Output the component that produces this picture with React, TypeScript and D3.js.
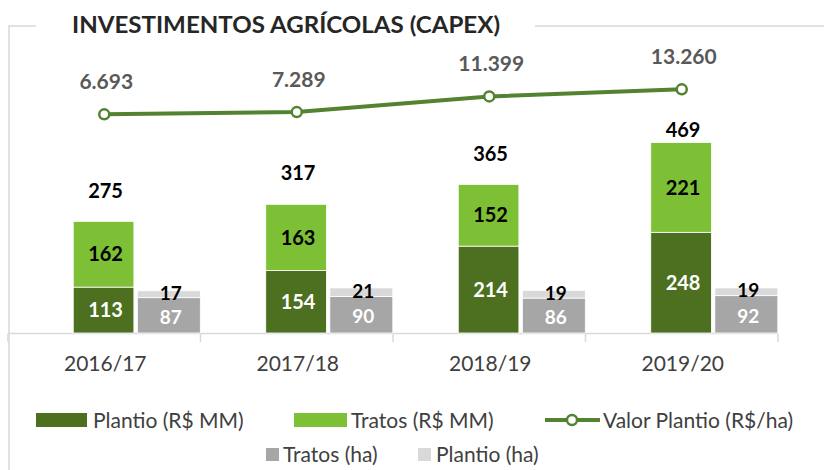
import React, { useEffect, useRef } from 'react';
import * as d3 from 'd3';

// values
const seasons = ['2016/17', '2017/18', '2018/19', '2019/20'];
const plantioMM = [113, 154, 214, 248];
const tratosMM = [162, 163, 152, 221];
const totalMM = [275, 317, 365, 469];
const tratosHa = [87, 90, 86, 92];
const plantioHa = [17, 21, 19, 19];
const valorPlantio = [6693, 7289, 11399, 13260];
const valorLabels = ['6.693', '7.289', '11.399', '13.260'];

const W = 825;
const H = 470;

const C = {
  darkGreen: '#4C7020',
  lightGreen: '#7DBF35',
  line: '#538230',
  gray: '#A6A6A6',
  lightGray: '#D9D9D9',
  frame: '#D9D9D9',
  text: '#404040',
  lineText: '#595959',
};

const FONT = 'Lato, "Noto Sans", sans-serif';

const App = () => {
  const ref = useRef<SVGSVGElement | null>(null);

  useEffect(() => {
    const svg = d3.select(ref.current);
    svg.selectAll('*').remove();

    const x = d3.scaleBand().domain(seasons).range([8, 778]).padding(0);
    const bw = x.bandwidth();
    const y = d3.scaleLinear().domain([0, 800]).range([333, 8.2]);
    const y2 = d3.scaleLinear().domain([0, 14000]).range([139.8, 86.5]);

    // frame
    svg.append('path')
      .attr('d', `M9,470 V26 H36 M535,26 H824`)
      .attr('fill', 'none')
      .attr('stroke', C.frame)
      .attr('stroke-width', 1.5);

    svg.append('text')
      .attr('x', 72)
      .attr('y', 33)
      .attr('font-family', FONT)
      .attr('font-weight', 700)
      .attr('font-size', 23)
      .attr('fill', '#262626')
      .attr('textLength', 428)
      .attr('lengthAdjust', 'spacingAndGlyphs')
      .text('INVESTIMENTOS AGRÍCOLAS (CAPEX)');

    // category axis
    const axisG = svg.append('g');
    axisG.append('line')
      .attr('x1', 8).attr('x2', 778)
      .attr('y1', 333.5).attr('y2', 333.5)
      .attr('stroke', C.frame).attr('stroke-width', 1.5);
    const bounds = seasons.map(s => x(s) as number).concat([778]);
    axisG.selectAll('.tick')
      .data(bounds)
      .enter()
      .append('line')
      .attr('x1', d => d).attr('x2', d => d)
      .attr('y1', 333.5).attr('y2', 342)
      .attr('stroke', C.frame).attr('stroke-width', 1.5);
    axisG.selectAll('.cat')
      .data(seasons)
      .enter()
      .append('text')
      .attr('x', d => (x(d) as number) + bw / 2 + 1)
      .attr('y', 371)
      .attr('text-anchor', 'middle')
      .attr('font-family', FONT)
      .attr('font-size', 21)
      .attr('fill', C.text)
      .text(d => d);

    const label = (g: any, xs: number, ys: number, txt: string, fill: string, size = 20) =>
      g.append('text')
        .attr('x', xs)
        .attr('y', ys)
        .attr('dy', '0.36em')
        .attr('text-anchor', 'middle')
        .attr('font-family', FONT)
        .attr('font-weight', 700)
        .attr('font-size', size)
        .attr('fill', fill)
        .text(txt);

    const bars = svg.append('g');
    seasons.forEach((s, i) => {
      const x0 = x(s) as number;
      const gx = x0 + bw * 0.339;
      const gw = bw * 0.315;
      const hx = x0 + bw * 0.672;
      const hw = bw * 0.327;

      // green stack (R$ MM)
      bars.append('rect')
        .attr('x', gx).attr('width', gw)
        .attr('y', y(plantioMM[i])).attr('height', y(0) - y(plantioMM[i]))
        .attr('fill', C.darkGreen).attr('stroke', '#fff').attr('stroke-width', 0.8);
      bars.append('rect')
        .attr('x', gx).attr('width', gw)
        .attr('y', y(plantioMM[i] + tratosMM[i])).attr('height', y(plantioMM[i]) - y(plantioMM[i] + tratosMM[i]))
        .attr('fill', C.lightGreen).attr('stroke', '#fff').attr('stroke-width', 0.8);

      // gray stack (ha)
      bars.append('rect')
        .attr('x', hx).attr('width', hw)
        .attr('y', y(tratosHa[i])).attr('height', y(0) - y(tratosHa[i]))
        .attr('fill', C.gray).attr('stroke', '#fff').attr('stroke-width', 0.8);
      bars.append('rect')
        .attr('x', hx).attr('width', hw)
        .attr('y', y(tratosHa[i] + plantioHa[i])).attr('height', y(tratosHa[i]) - y(tratosHa[i] + plantioHa[i]))
        .attr('fill', C.lightGray).attr('stroke', '#fff').attr('stroke-width', 0.8);

      const gc = gx + gw / 2 + 2;
      const hc = hx + hw / 2 + 2;
      label(bars, gc, (y(0) + y(plantioMM[i])) / 2, String(plantioMM[i]), '#fff');
      label(bars, gc, (y(plantioMM[i]) + y(plantioMM[i] + tratosMM[i])) / 2, String(tratosMM[i]), '#000');
      label(bars, hc, (y(0) + y(tratosHa[i])) / 2 + 1.5, String(tratosHa[i]), '#fff', 19);
      label(bars, hc, (y(tratosHa[i]) + y(tratosHa[i] + plantioHa[i])) / 2 - 1.5, String(plantioHa[i]), '#000', 19);

      // total above the bar, kept clear of the line point
      const ty = Math.max(y(totalMM[i]) - 31, y2(valorPlantio[i]) + 40);
      label(bars, gc, ty, String(totalMM[i]), '#000');
    });

    // Valor Plantio line
    const pts: [number, number][] = seasons.map((s, i) => [(x(s) as number) + bw / 2, y2(valorPlantio[i])]);
    const lineG = svg.append('g');
    lineG.append('path')
      .attr('d', d3.line()(pts))
      .attr('fill', 'none')
      .attr('stroke', C.line)
      .attr('stroke-width', 4);
    lineG.selectAll('circle')
      .data(pts)
      .enter()
      .append('circle')
      .attr('cx', d => d[0]).attr('cy', d => d[1])
      .attr('r', 5)
      .attr('fill', '#fff')
      .attr('stroke', C.line)
      .attr('stroke-width', 2.5);
    pts.forEach((p, i) => label(lineG, p[0] + 2, p[1] - 32.5, valorLabels[i], C.lineText, 21));

    // legend
    const lg = svg.append('g').attr('font-family', FONT).attr('font-size', 21).attr('fill', C.text);
    const legendText = (tx: number, ty: number, t: string) =>
      lg.append('text').attr('x', tx).attr('y', ty).attr('dy', '0.36em').text(t);

    lg.append('rect').attr('x', 36).attr('y', 413).attr('width', 51).attr('height', 14).attr('fill', C.darkGreen);
    legendText(93, 420, 'Plantio (R$ MM)');
    lg.append('rect').attr('x', 294).attr('y', 413).attr('width', 53).attr('height', 14).attr('fill', C.lightGreen);
    legendText(351, 420, 'Tratos (R$ MM)');
    lg.append('line').attr('x1', 545).attr('x2', 600).attr('y1', 420).attr('y2', 420)
      .attr('stroke', C.line).attr('stroke-width', 4);
    lg.append('circle').attr('cx', 572).attr('cy', 420).attr('r', 5)
      .attr('fill', '#fff').attr('stroke', C.line).attr('stroke-width', 2.5);
    legendText(603, 420, 'Valor Plantio (R$/ha)');

    lg.append('rect').attr('x', 266).attr('y', 448).attr('width', 13).attr('height', 13).attr('fill', C.gray);
    legendText(283, 454, 'Tratos (ha)');
    lg.append('rect').attr('x', 418).attr('y', 448).attr('width', 13).attr('height', 13).attr('fill', C.lightGray);
    legendText(436, 454, 'Plantio (ha)');
  }, []);

  return (
    <svg
      ref={ref}
      width={W}
      height={H}
      style={{ position: 'absolute', left: 0, top: 0, background: '#fff' }}
    />
  );
};

export default App;
